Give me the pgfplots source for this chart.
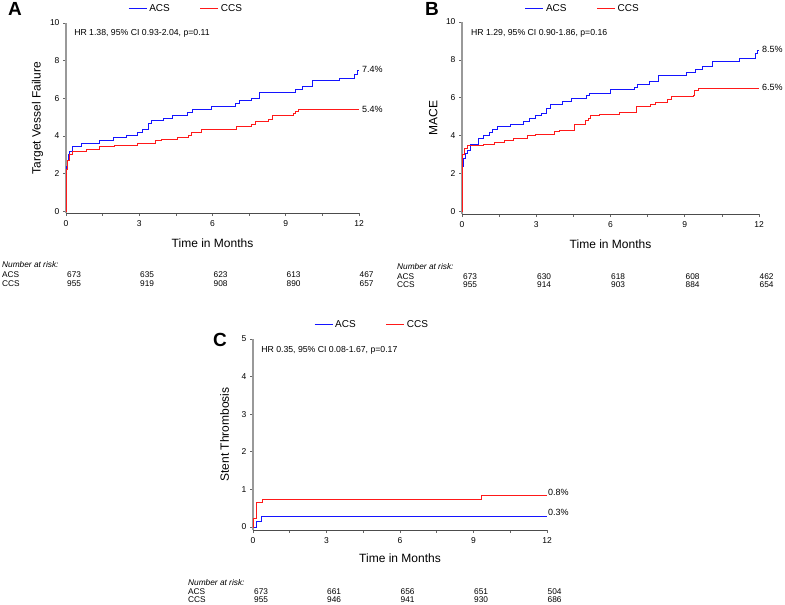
\documentclass[border=0pt]{standalone}
\usepackage{fontspec}
\setmainfont{Liberation Sans}
\usepackage{pgfplots}
\pgfplotsset{compat=1.18}

\definecolor{acs}{RGB}{20,20,255}
\definecolor{ccs}{RGB}{255,25,25}

\pgfplotsset{
 km/.style={
  scale only axis,
  xmin=0, xmax=12,
  axis x line=bottom, axis y line=left,
  axis line style={-},
  x axis line style={black!70, line width=0.7pt},
  y axis line style={black!40, line width=1.1pt},
  xtick={0,3,...,12},
  minor xtick={1.5,4.5,7.5,10.5},
  tick align=outside,
  major tick length=3pt, minor tick length=2.5pt,
  tick style={black!60, line width=0.6pt},
  every tick label/.append style={font=\fontsize{8.5}{10}\selectfont},
  xticklabel style={yshift=-1.5pt},
  /pgf/number format/assume math mode=true,
  xlabel={Time in Months},
  label style={font=\fontsize{12}{14}\selectfont},
  ylabel style={at={(axis description cs:-0.097,0.5)}, anchor=center},
  legend columns=2,
  legend image code/.code={\draw[##1] (0pt,0pt) -- (18pt,0pt);},
  clip=false,
  every axis plot/.append style={line width=0.9pt, const plot, mark=none},
 },
 kmleg/.style={legend style={draw=none, fill=none, font=\fontsize{10}{12}\selectfont,
   at={(axis description cs:#1)}, anchor=center,
   /tikz/every even column/.append style={column sep=28pt}}},
}
\tikzset{risk/.style={anchor=west, inner sep=0pt, font=\fontsize{8.3}{9}\selectfont},
         letter/.style={inner sep=0pt, font=\fontsize{19}{20}\selectfont\bfseries},
         endlab/.style={anchor=west, inner sep=0pt, font=\fontsize{9}{10}\selectfont},
         hrlab/.style={anchor=west, inner sep=0pt, font=\fontsize{8.7}{10}\selectfont}}

\begin{document}
\begin{tikzpicture}
\useasboundingbox (0pt,0pt) rectangle (785pt,-605pt);

% ---------------- Panel A ----------------
\begin{axis}[km, kmleg={0.41,1.075}, at={(66pt,-213pt)}, anchor=south west,
  width=293pt, height=190pt, ymin=-0.1, ymax=10, ytick={0,2,...,10},
  xlabel style={at={(axis description cs:0.5,-0.158)}, anchor=center},
  ylabel={Target Vessel Failure}]
\addlegendimage{draw=acs, line width=1.1pt}
\addlegendentry{ACS}
\addlegendimage{draw=ccs, line width=1.1pt}
\addlegendentry{CCS}
\addplot[color=acs, forget plot] table {
0 0
0.03 2.4
0.05 2.7
0.08 3.0
0.14 3.15
0.27 3.42
0.62 3.58
1.37 3.75
1.94 3.9
2.46 4.03
2.91 4.2
3.15 4.36
3.39 4.64
3.52 4.8
3.99 4.95
4.38 5.1
4.99 5.25
5.16 5.4
5.96 5.55
6.94 5.7
7.09 5.87
7.59 6.0
7.91 6.32
9.41 6.48
9.67 6.62
10.08 6.92
11.18 7.06
11.83 7.26
11.93 7.47
12 7.47
};
\addplot[color=ccs, forget plot] table {
0 0
0.005 2.2
0.05 2.7
0.14 3.02
0.25 3.15
0.82 3.29
1.37 3.42
1.98 3.5
2.94 3.6
3.67 3.74
3.9 3.83
4.58 3.9
5.02 4.04
5.13 4.18
5.54 4.34
7.0 4.52
7.59 4.63
7.74 4.75
8.28 4.89
8.45 5.07
9.3 5.2
9.41 5.32
9.53 5.41
12 5.41
};
\node[hrlab] at (axis cs:0.33,9.45) {HR 1.38, 95\% CI 0.93-2.04, p=0.11};
\node[endlab] at (axis cs:12.12,7.55) {7.4\%};
\node[endlab] at (axis cs:12.12,5.43) {5.4\%};
\end{axis}

% ---------------- Panel B ----------------
\begin{axis}[km, kmleg={0.407,1.068}, at={(462pt,-214pt)}, anchor=south west,
  width=297pt, height=192pt, ymin=-0.15, ymax=10, ytick={0,2,...,10},
  xlabel style={at={(axis description cs:0.5,-0.156)}, anchor=center},
  ylabel={MACE}]
\addlegendimage{draw=acs, line width=1.1pt}
\addlegendentry{ACS}
\addlegendimage{draw=ccs, line width=1.1pt}
\addlegendentry{CCS}
\addplot[color=acs, forget plot] table {
0 0
0.03 2.35
0.05 2.8
0.15 3.05
0.2 3.23
0.34 3.55
0.65 3.85
0.85 4.0
1.12 4.17
1.25 4.33
1.42 4.47
1.95 4.61
2.49 4.73
2.74 4.88
2.97 5.04
3.21 5.19
3.41 5.44
3.57 5.62
4.05 5.8
4.42 5.94
5.03 6.1
5.16 6.24
6.0 6.41
6.98 6.55
7.08 6.68
7.59 6.86
7.95 7.16
9.07 7.35
9.44 7.47
9.72 7.65
10.11 7.93
11.2 8.09
11.87 8.32
11.93 8.5
12 8.5
};
\addplot[color=ccs, forget plot] table {
0 0
0.005 3.02
0.1 3.32
0.2 3.45
0.85 3.53
1.32 3.64
1.73 3.76
2.09 3.87
2.63 3.98
2.97 4.06
3.75 4.2
3.95 4.29
4.56 4.59
5.0 4.77
5.1 4.91
5.2 5.04
5.57 5.12
6.38 5.23
7.05 5.53
7.63 5.65
7.82 5.76
8.29 5.88
8.47 6.06
9.34 6.11
9.41 6.38
9.55 6.5
12 6.5
};
\node[hrlab] at (axis cs:0.36,9.42) {HR 1.29, 95\% CI 0.90-1.86, p=0.16};
\node[endlab] at (axis cs:12.12,8.57) {8.5\%};
\node[endlab] at (axis cs:12.12,6.56) {6.5\%};
\end{axis}

% ---------------- Panel C ----------------
\begin{axis}[km, kmleg={0.405,1.075}, at={(253pt,-530pt)}, anchor=south west,
  width=294pt, height=191pt, ymin=-0.08, ymax=5, ytick={0,...,5},
  xlabel style={at={(axis description cs:0.5,-0.147)}, anchor=center},
  ylabel={Stent Thrombosis}]
\addlegendimage{draw=acs, line width=1.1pt}
\addlegendentry{ACS}
\addlegendimage{draw=ccs, line width=1.1pt}
\addlegendentry{CCS}
\addplot[color=acs, forget plot] table {
0 0
0.14 0.16
0.34 0.29
12 0.29
};
\addplot[color=ccs, forget plot] table {
0 0
0.01 0.22
0.14 0.64
0.39 0.74
9.32 0.84
12 0.84
};
\node[hrlab] at (axis cs:0.33,4.71) {HR 0.35, 95\% CI 0.08-1.67, p=0.17};
\node[endlab] at (axis cs:12.04,0.93) {0.8\%};
\node[endlab] at (axis cs:12.04,0.40) {0.3\%};
\end{axis}

% ---------------- Panel letters ----------------
\node[letter] at (15pt,-8.5pt) {A};
\node[letter] at (432pt,-8.5pt) {B};
\node[letter] at (220pt,-339.5pt) {C};

% ---------------- Number at risk: A ----------------
\node[risk] at (2pt,-265pt) {\itshape Number at risk:};
\node[risk] at (2pt,-275pt) {ACS};
\node[risk] at (2pt,-284pt) {CCS};
\node[risk] at (67pt,-275pt) {673};
\node[risk] at (140pt,-275pt) {635};
\node[risk] at (213.5pt,-275pt) {623};
\node[risk] at (286.5pt,-275pt) {613};
\node[risk] at (359.5pt,-275pt) {467};
\node[risk] at (67pt,-284pt) {955};
\node[risk] at (140pt,-284pt) {919};
\node[risk] at (213.5pt,-284pt) {908};
\node[risk] at (286.5pt,-284pt) {890};
\node[risk] at (359.5pt,-284pt) {657};

% ---------------- Number at risk: B ----------------
\node[risk] at (397pt,-267pt) {\itshape Number at risk:};
\node[risk] at (397pt,-277pt) {ACS};
\node[risk] at (397pt,-285pt) {CCS};
\node[risk] at (463pt,-277pt) {673};
\node[risk] at (537pt,-277pt) {630};
\node[risk] at (611pt,-277pt) {618};
\node[risk] at (685.5pt,-277pt) {608};
\node[risk] at (759.5pt,-277pt) {462};
\node[risk] at (463pt,-285pt) {955};
\node[risk] at (537pt,-285pt) {914};
\node[risk] at (611pt,-285pt) {903};
\node[risk] at (685.5pt,-285pt) {884};
\node[risk] at (759.5pt,-285pt) {654};

% ---------------- Number at risk: C ----------------
\node[risk] at (188pt,-583pt) {\itshape Number at risk:};
\node[risk] at (188pt,-592pt) {ACS};
\node[risk] at (188pt,-599.5pt) {CCS};
\node[risk] at (254pt,-592pt) {673};
\node[risk] at (327pt,-592pt) {661};
\node[risk] at (400.5pt,-592pt) {656};
\node[risk] at (474pt,-592pt) {651};
\node[risk] at (547.5pt,-592pt) {504};
\node[risk] at (254pt,-599.5pt) {955};
\node[risk] at (327pt,-599.5pt) {946};
\node[risk] at (400.5pt,-599.5pt) {941};
\node[risk] at (474pt,-599.5pt) {930};
\node[risk] at (547.5pt,-599.5pt) {686};
\end{tikzpicture}
\end{document}
